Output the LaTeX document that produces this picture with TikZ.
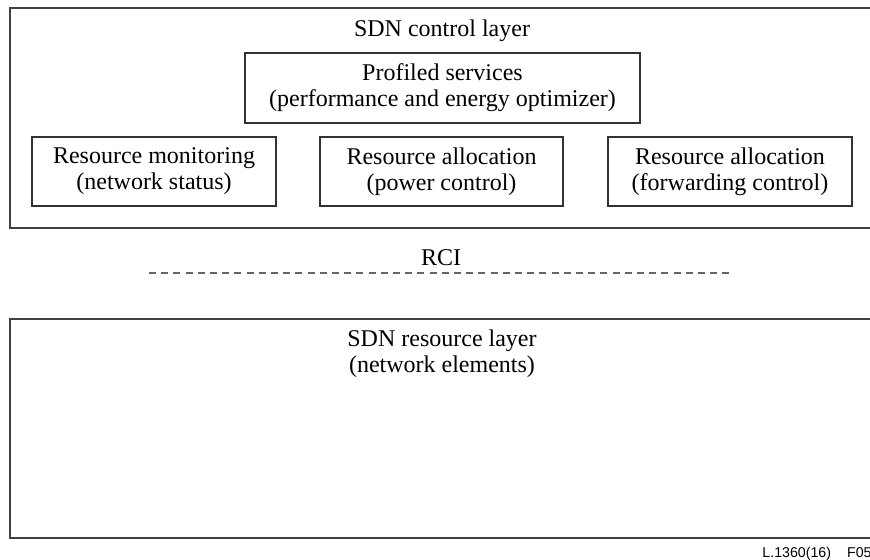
\documentclass[tikz,border=0pt]{standalone}
\usepackage{fontspec}
\setmainfont{Liberation Serif}
\newfontfamily\figlabelfont{Liberation Sans}

\begin{document}
\begin{tikzpicture}[x=0.5pt, y=-0.5pt,
    font=\fontsize{12}{13}\selectfont,
    layerbox/.style={draw=black!75, line width=0.75pt, rectangle, inner sep=0pt, minimum width=435pt},
    funcbox/.style={draw=black!80, line width=0.65pt, rectangle, inner sep=0pt, align=center, minimum height=34.5pt},
    rciline/.style={draw=black!60, line width=1.1pt, dash pattern=on 3.5pt off 2.6pt}]
    \useasboundingbox (0,0) rectangle (870,560);

    % SDN control layer
    \node[layerbox, minimum height=110pt] (ctrl) at (445,118) {};
    \node[anchor=base] (ctrltitle) at (442,37) {SDN control layer};

    % Profiled services
    \node[funcbox, minimum width=197.5pt, minimum height=35pt] (profiled) at (442.5,88) {
        Profiled services\\
        (performance and energy optimizer)
    };

    % Resource functions
    \node[funcbox, minimum width=122pt] (monitor) at (154,171.5) {
        Resource monitoring\\
        (network status)
    };
    \node[funcbox, minimum width=121.5pt] (power) at (441.5,171.5) {
        Resource allocation\\
        (power control)
    };
    \node[funcbox, minimum width=122pt] (forward) at (730,171.5) {
        Resource allocation\\
        (forwarding control)
    };

    % RCI
    \node[anchor=base] (rci) at (441,266) {RCI};
    \coordinate (rcistart) at (149,273);
    \coordinate (rciend) at (734,273);
    \draw[rciline] (rcistart) -- (rciend);

    % SDN resource layer
    \node[layerbox, minimum height=109.5pt] (res) at (445,428.5) {};
    \node[align=center] (restitle) at (442,354) {
        SDN resource layer\\
        (network elements)
    };

    % Figure label
    \node[anchor=base west, inner sep=0pt, font=\figlabelfont\fontsize{7.1}{8}\selectfont] (figlabel) at (762,557) {L.1360(16)\hspace{8pt}F05};
\end{tikzpicture}
\end{document}
